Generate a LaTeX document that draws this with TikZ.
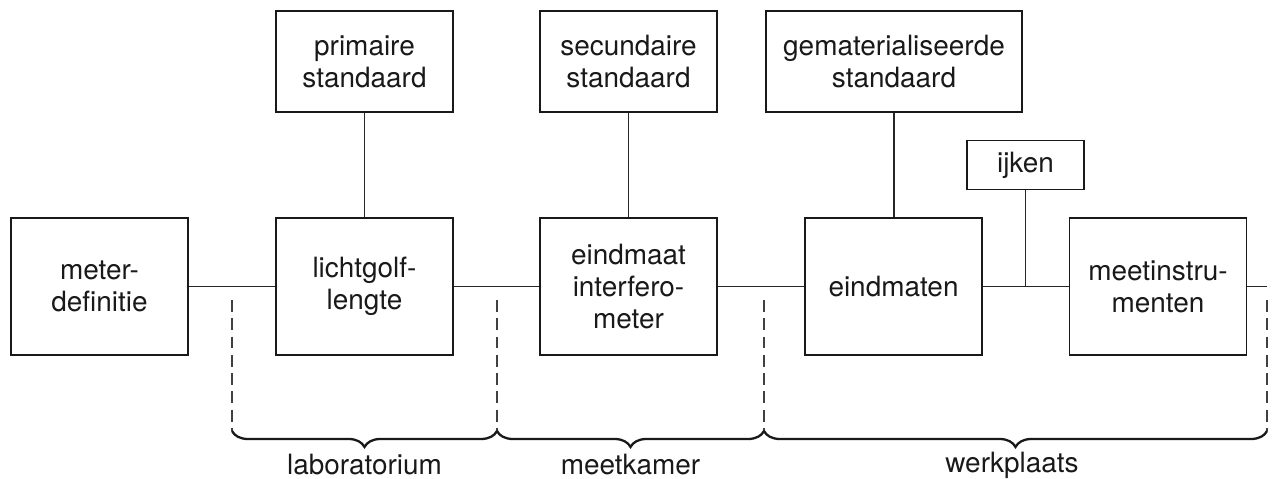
\documentclass[tikz,border=0pt]{standalone}
\usepackage{fontspec}
\setmainfont{TeX Gyre Heros}
\usetikzlibrary{decorations.pathreplacing, positioning}

\begin{document}
\begin{tikzpicture}[x=0.02cm, y=-0.02cm]
\tikzstyle{every node}+=[inner sep=0pt, text=black!90, font=\fontsize{15.9}{18.2}\selectfont]
\tikzstyle{blok}=[draw=black!90, line width=1.1pt, align=center, minimum width=3.54cm, minimum height=2.74cm]
\tikzstyle{bron}=[blok, minimum height=2.02cm]
\tikzstyle{lijn}=[black!85, line width=0.6pt]
\tikzstyle{grens}=[black!75, line width=0.6pt, dash pattern=on 6.8pt off 3.6pt]
\tikzstyle{accolade}=[black!90, line width=1.3pt, decorate, decoration={brace, mirror, amplitude=0.32cm}]
\useasboundingbox (0,0) rectangle (1275,479);
\node [blok] (meterdef) at (99.5,286.5) {meter-\\definitie};
\node [blok] (lichtgolf) at (364.5,286.5) {lichtgolf-\\lengte};
\node [blok] (interfero) at (628.5,286.5) {eindmaat\\interfero-\\meter};
\node [blok] (eindmaten) at (893.5,286.5) {eindmaten};
\node [blok] (meetinstr) at (1158,286.5) {meetinstru-\\menten};
\node [bron] (primair) at (364.5,61.5) {primaire\\standaard};
\node [bron] (secundair) at (628.5,61.5) {secundaire\\standaard};
\node [bron, minimum width=5.12cm] (gemat) at (894,61.5) {gematerialiseerde\\standaard};
\node [blok, minimum width=2.34cm, minimum height=0.98cm] (ijken) at (1025.5,165) {ijken};
\coordinate (eind) at (1267,286.5);
\draw [lijn] (meterdef.east) -- (lichtgolf.west);
\draw [lijn] (lichtgolf.east) -- (interfero.west);
\draw [lijn] (interfero.east) -- (eindmaten.west);
\draw [lijn] (eindmaten.east) -- (meetinstr.west);
\draw [lijn] (meetinstr.east) -- (eind);
\draw [lijn] (primair.south) -- (lichtgolf.north);
\draw [lijn] (secundair.south) -- (interfero.north);
\draw [lijn] (gemat.south) -- (gemat.south |- eindmaten.north);
\draw [lijn] (ijken.south) -- (ijken.south |- eindmaten.east);
\coordinate (g1) at (232,300); \coordinate (h1) at (232,431);
\coordinate (g2) at (497,300); \coordinate (h2) at (497,431);
\coordinate (g3) at (764,300); \coordinate (h3) at (764,431);
\coordinate (g4) at (1267,300); \coordinate (h4) at (1267,431);
\draw [grens] (g1) -- (h1);
\draw [grens] (g2) -- (h2);
\draw [grens] (g3) -- (h3);
\draw [grens] (g4) -- (h4);
\draw [accolade] (h1) -- (h2);
\draw [accolade] (h2) -- (h3);
\draw [accolade] (h3) -- (h4);
\node (lab) at (364.5,465) {laboratorium};
\node (kamer) at (630.5,465) {meetkamer};
\node (plaats) at (1012,465) {werkplaats};
\end{tikzpicture}
\end{document}
